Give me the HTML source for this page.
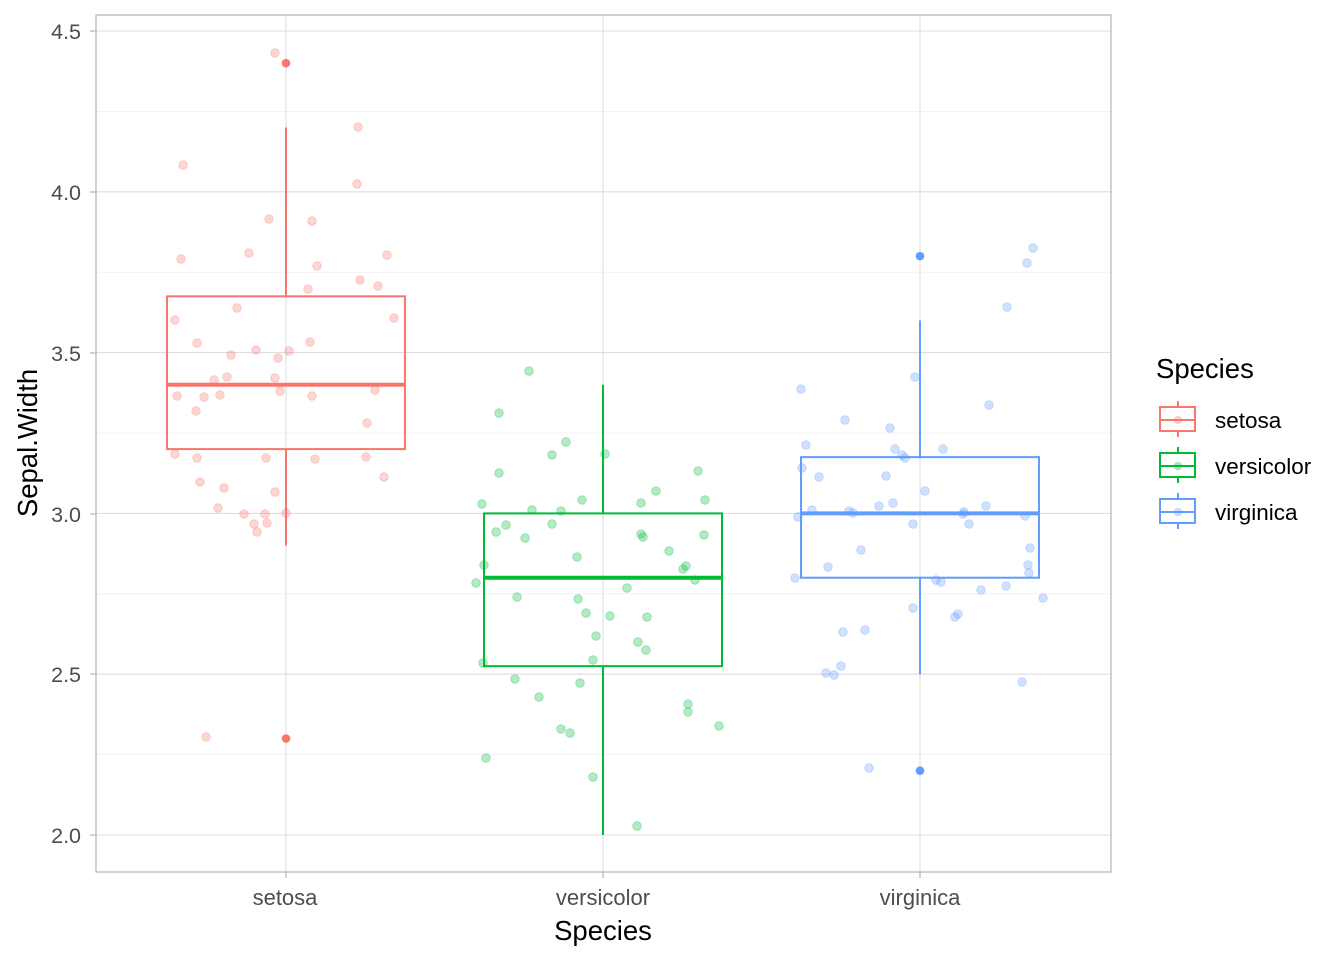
<!DOCTYPE html>
<html><head><meta charset="utf-8"><style>
body{margin:0;background:#fff}
svg{display:block;font-family:"Liberation Sans",Arial,sans-serif}
</style></head><body>
<svg id="s" width="1344" height="960" xmlns="http://www.w3.org/2000/svg">
<rect x="0" y="0" width="1344" height="960" fill="#fff"/>
<g id="grid"></g>
<g id="pts"></g>
<g id="box"></g>
<rect x="96" y="15" width="1015" height="857" fill="none" stroke="#b3b3b3" stroke-width="1.2"/>
<g font-size="21.5" fill="#4d4d4d" text-anchor="end">
<text x="81" y="843">2.0</text><text x="81" y="682">2.5</text><text x="81" y="522">3.0</text>
<text x="81" y="361">3.5</text><text x="81" y="200">4.0</text><text x="81" y="39">4.5</text>
</g>
<g stroke="#b3b3b3" stroke-width="1.2">
<line x1="90" x2="96" y1="835" y2="835"/><line x1="90" x2="96" y1="674" y2="674"/><line x1="90" x2="96" y1="514" y2="514"/>
<line x1="90" x2="96" y1="353" y2="353"/><line x1="90" x2="96" y1="192" y2="192"/><line x1="90" x2="96" y1="31" y2="31"/>
<line x1="286" x2="286" y1="872" y2="878"/><line x1="603" x2="603" y1="872" y2="878"/><line x1="920" x2="920" y1="872" y2="878"/>
</g>
<g font-size="22" fill="#4d4d4d" text-anchor="middle">
<text x="285" y="905">setosa</text><text x="603" y="905">versicolor</text><text x="920" y="905">virginica</text>
</g>
<text x="603" y="940" font-size="27.5" text-anchor="middle" fill="#000">Species</text>
<text transform="translate(37,443) rotate(-90)" font-size="27.5" text-anchor="middle" fill="#000">Sepal.Width</text>
<text x="1156" y="378" font-size="27.5" fill="#000">Species</text>
<g id="leg"></g>
<g font-size="22.5" fill="#000">
<text x="1215" y="428">setosa</text><text x="1215" y="474">versicolor</text><text x="1215" y="520">virginica</text>
</g>
</svg>
<script>
const NS="http://www.w3.org/2000/svg";
function el(p,t,a){const e=document.createElementNS(NS,t);for(const k in a)e.setAttribute(k,a[k]);document.getElementById(p).appendChild(e);return e;}
const Y=v=>835-(v-2)*321.6;
for(let v=2;v<=4.51;v+=0.25){const maj=Math.abs(v*2-Math.round(v*2))<1e-6;
el("grid","line",{x1:96,x2:1111,y1:Y(v),y2:Y(v),stroke:maj?"#dedede":"#efefef","stroke-width":maj?1.1:0.8});}
for(const x of [286,603,920])el("grid","line",{x1:x,x2:x,y1:15,y2:872,stroke:"#dedede","stroke-width":1.1});
const C=["#F8766D","#00BA38","#619CFF"];
const P=[
[[275,53],[183,165],[358,127],[357,184],[269,219],[312,221],[249,253],[181,259],[387,255],[317,266],[360,280],[378,286],[308,289],[237,308],[175,320],[394,318],[197,343],[310,342],[231,355],[256,350],[289,351],[278,358],[227,377],[214,380],[275,378],[204,397],[220,395],[177,396],[280,391],[312,396],[375,390],[196,411],[367,423],[175,454],[197,458],[266,458],[315,459],[366,457],[384,477],[200,482],[224,488],[275,492],[218,508],[244,514],[265,514],[286,513],[254,524],[267,523],[257,532],[206,737]],
[[529,371],[499,413],[566,442],[552,455],[605,454],[499,473],[698,471],[656,491],[482,504],[582,500],[641,503],[705,500],[532,510],[561,511],[506,525],[552,524],[496,532],[525,538],[641,534],[643,537],[704,535],[669,551],[577,557],[484,565],[686,566],[683,569],[476,583],[695,580],[627,588],[517,597],[578,599],[586,613],[610,616],[647,617],[596,636],[638,642],[646,650],[593,660],[483,663],[515,679],[580,683],[539,697],[688,704],[688,712],[719,726],[561,729],[570,733],[486,758],[593,777],[637,826]],
[[1033,248],[1027,263],[1007,307],[801,389],[915,377],[989,405],[845,420],[890,428],[806,445],[943,449],[895,449],[902,455],[905,458],[819,477],[886,476],[925,491],[802,468],[893,503],[879,506],[849,511],[853,513],[812,510],[964,512],[986,506],[1025,516],[798,517],[963,514],[913,524],[969,524],[861,550],[1030,548],[1028,565],[828,567],[1029,573],[795,578],[936,580],[941,582],[1006,586],[981,590],[1043,598],[913,608],[958,614],[955,617],[865,630],[843,632],[841,666],[826,673],[834,675],[1022,682],[869,768]]];
P.forEach((a,i)=>a.forEach(([x,y])=>el("pts","circle",{cx:x,cy:y,r:4.3,fill:C[i],"fill-opacity":0.3,stroke:C[i],"stroke-opacity":0.35,"stroke-width":0.8})));
const B=[[286,2.9,3.2,3.4,3.675,4.2,[4.4,2.3]],[603,2.0,2.525,2.8,3.0,3.4,[]],[920,2.5,2.8,3.0,3.175,3.6,[3.8,2.2]]];
B.forEach(([x,lo,q1,m,q3,hi,out],i)=>{const c=C[i];
el("box","line",{x1:x,x2:x,y1:Y(lo),y2:Y(q1),stroke:c,"stroke-width":2});
el("box","line",{x1:x,x2:x,y1:Y(q3),y2:Y(hi),stroke:c,"stroke-width":2});
el("box","rect",{x:x-119,y:Y(q3),width:238,height:Y(q1)-Y(q3),fill:"none",stroke:c,"stroke-width":2});
el("box","line",{x1:x-119,x2:x+119,y1:Y(m),y2:Y(m),stroke:c,"stroke-width":4});
out.forEach(v=>el("box","circle",{cx:x,cy:Y(v),r:4.3,fill:c}));});
[420,466,512].forEach((cy,i)=>{const c=C[i];
el("leg","line",{x1:1178,x2:1178,y1:cy-19,y2:cy+17,stroke:c,"stroke-width":2});
el("leg","rect",{x:1160,y:cy-13,width:35,height:24,fill:"#fff",stroke:c,"stroke-width":2});
el("leg","line",{x1:1160,x2:1195,y1:cy,y2:cy,stroke:c,"stroke-width":2});
el("leg","circle",{cx:1178,cy:cy,r:4.3,fill:c,"fill-opacity":0.35});});
</script>
</body></html>
